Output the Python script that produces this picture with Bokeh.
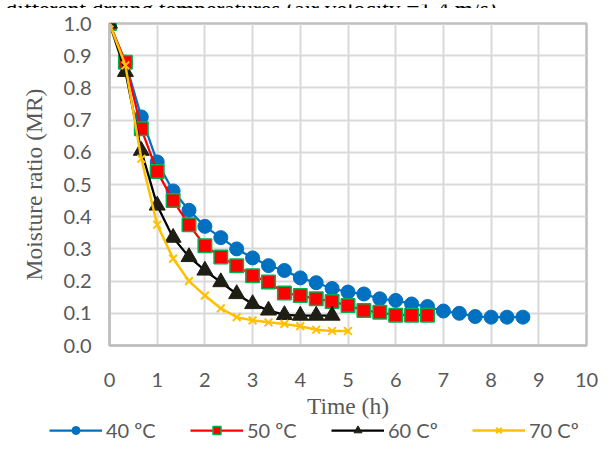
from bokeh.plotting import figure
from bokeh.models import (Range1d, FixedTicker, NumeralTickFormatter, Legend, LegendItem,
                          Label)
from bokeh.embed import file_html
from bokeh.resources import INLINE

# ---- data ----
step = 1.0 / 3.0
mr_40 = [1.0, 0.88, 0.71, 0.57, 0.48, 0.42, 0.37, 0.335, 0.30, 0.272, 0.248, 0.233, 0.21,
         0.195, 0.177, 0.166, 0.16, 0.145, 0.14, 0.129, 0.121, 0.107, 0.10, 0.09, 0.088,
         0.088, 0.088]
mr_50 = [1.0, 0.88, 0.673, 0.54, 0.45, 0.375, 0.31, 0.275, 0.248, 0.217, 0.197, 0.163,
         0.155, 0.145, 0.137, 0.124, 0.109, 0.103, 0.094, 0.094, 0.094]
mr_60 = [1.0, 0.85, 0.605, 0.435, 0.335, 0.275, 0.233, 0.197, 0.16, 0.129, 0.109, 0.095,
         0.093, 0.093, 0.093]
mr_70 = [1.0, 0.87, 0.58, 0.375, 0.27, 0.2, 0.155, 0.115, 0.088, 0.078, 0.072, 0.067,
         0.06, 0.049, 0.045, 0.045]
labels = ["40 \u00baC", "50 \u00baC", "60 C\u00ba", "70 C\u00ba"]
x_ticks = list(range(0, 11))
y_ticks = [i / 10 for i in range(0, 11)]
title_text = "different drying temperatures (air velocity =1.4 m/s)"

def times(n):
    return [i * step for i in range(n)]

GRAY = "#595959"
TICK_FONT = "Lato"
SERIF = "Liberation Serif"

styles = [
    dict(line_color="#0070C0", line_width=2.25, marker="circle", size=14,
         fill_color="#0070C0", m_line="#0070C0", m_width=1),
    dict(line_color="#FF0000", line_width=2.25, marker="square", size=13.5,
         fill_color="#FF0000", m_line="#00B050", m_width=1.5),
    dict(line_color="#000000", line_width=2.25, marker="triangle", size=16,
         fill_color="#1E1E14", m_line="#1E1E14", m_width=1),
    dict(line_color="#FFC000", line_width=2.5, marker="x", size=11,
         fill_color="#FFC000", m_line="#FFC000", m_width=2),
]
series = [mr_40, mr_50, mr_60, mr_70]

def strip(h):
    f = figure(width=612, height=h, output_backend="svg", toolbar_location=None,
               x_range=Range1d(0, 1), y_range=Range1d(10, 11),
               x_axis_type=None, y_axis_type=None,
               min_border_left=0, min_border_right=0, min_border_top=0, min_border_bottom=0)
    f.outline_line_color = None
    f.xgrid.visible = False
    f.ygrid.visible = False
    return f

# ---- title strip (only the lower part of the title line is visible) ----
tf = strip(8)
tf.add_layout(Label(x=5, y=4, x_units="screen", y_units="screen", text=title_text,
                    text_font=SERIF, text_font_size="23.5px", text_color="#000000",
                    text_baseline="alphabetic"))

# ---- main chart ----
p = figure(width=612, height=414, output_backend="svg", toolbar_location=None,
           x_range=Range1d(0, 10), y_range=Range1d(0, 1.0),
           min_border_left=109, min_border_right=26, min_border_top=15, min_border_bottom=77)

p.outline_line_color = "#bfbfbf"
p.outline_line_width = 2.5
p.xgrid.grid_line_color = "#d9d9d9"
p.ygrid.grid_line_color = "#d9d9d9"
p.xgrid.grid_line_width = 2
p.ygrid.grid_line_width = 2
p.xgrid.ticker = FixedTicker(ticks=x_ticks)
p.ygrid.ticker = FixedTicker(ticks=y_ticks)

for ax in (p.xaxis[0], p.yaxis[0]):
    ax.axis_line_color = "#bfbfbf"
    ax.axis_line_width = 2.5
    ax.major_tick_line_color = None
    ax.minor_tick_line_color = None
    ax.major_label_text_font = TICK_FONT
    ax.major_label_text_font_size = "20px"
    ax.major_label_text_color = GRAY
    ax.axis_label_text_font = SERIF
    ax.axis_label_text_font_size = "23.5px"
    ax.axis_label_text_font_style = "normal"
    ax.axis_label_text_color = GRAY

p.xaxis.ticker = FixedTicker(ticks=x_ticks)
p.yaxis.ticker = FixedTicker(ticks=y_ticks)
p.yaxis.formatter = NumeralTickFormatter(format="0.0")
p.xaxis.axis_label = "Time (h)"
p.yaxis.axis_label = "Moisture ratio (MR)"
p.xaxis.major_label_standoff = 21
p.xaxis.axis_label_standoff = 3
p.yaxis.major_label_standoff = 12
p.yaxis.axis_label_standoff = 14

for vals, st in zip(series, styles):
    t = times(len(vals))
    p.line(t, vals, line_color=st["line_color"], line_width=st["line_width"])
    p.scatter(t, vals, marker=st["marker"], size=st["size"], fill_color=st["fill_color"],
              line_color=st["m_line"], line_width=st["m_width"])

# ---- legend strip (series drawn out of view; only their legend samples show) ----
lg = strip(30)
items = []
for lab, vals, st in zip(labels, series, styles):
    t = times(len(vals))
    rl = lg.line(t, vals, line_color=st["line_color"], line_width=st["line_width"])
    rm = lg.scatter(t, vals, marker=st["marker"], size=st["size"], fill_color=st["fill_color"],
                    line_color=st["m_line"], line_width=st["m_width"])
    items.append(LegendItem(label=lab, renderers=[rl, rm]))

legend = Legend(items=items, orientation="horizontal", location=(49, 10),
                glyph_width=53, glyph_height=20, label_standoff=4, label_width=84,
                spacing=0, padding=0, margin=0, border_line_color=None,
                background_fill_alpha=0, label_text_font=TICK_FONT,
                label_text_font_size="20px", label_text_color=GRAY)
lg.add_layout(legend, "center")

open("out.html", "w").write(file_html([tf, p, lg], INLINE))
